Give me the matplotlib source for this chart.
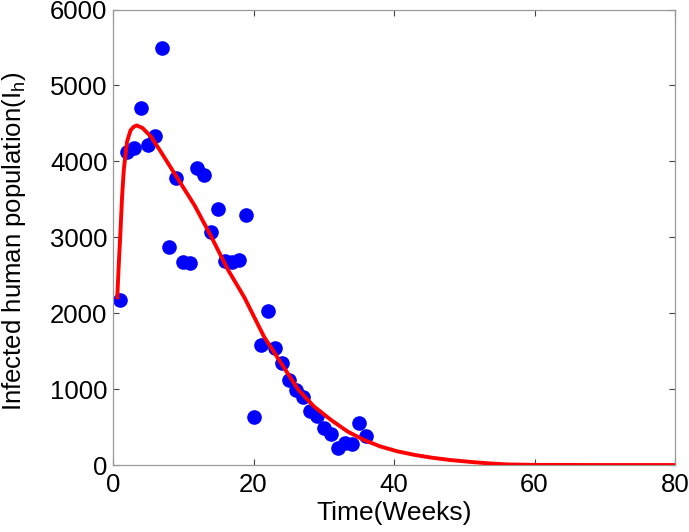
import matplotlib
matplotlib.use("Agg")
import matplotlib.pyplot as plt

# Observed data (weeks, infected humans)
weeks = list(range(1, 37))
infected = [2170, 4120, 4180, 4700, 4220, 4340, 5490, 2870, 3780, 2670,
            2660, 3910, 3820, 3070, 3370, 2690, 2680, 2700, 3300, 630,
            1580, 2030, 1545, 1350, 1126, 993, 897, 706, 649, 494,
            411, 221, 295, 274, 560, 388]

# Model fit curve
fit_t = [0.6, 0.8, 1.05, 1.3, 1.55, 2.0, 2.5, 3.0, 3.4, 4.2, 5.4, 6.8, 9.2,
         11.6, 13.9, 16.3, 18.7, 21.5, 23.9, 26.3, 28.6, 31.0, 33.4, 35.7,
         38.1, 40.5, 43.0, 45.5, 48.0, 51.0, 53.5, 56.0, 60.0, 70.0, 80.0]
fit_y = [2185, 2600, 3050, 3550, 3900, 4260, 4410, 4460, 4473, 4440, 4327,
         4128, 3775, 3422, 3024, 2583, 2208, 1690, 1347, 1000, 772, 596,
         441, 331, 243, 180, 132, 95, 66, 40, 22, 8, 2, 0, 0]

xticks = [0, 20, 40, 60, 80]
yticks = [0, 1000, 2000, 3000, 4000, 5000, 6000]

plt.rcParams['font.family'] = ['Liberation Sans', 'DejaVu Sans']
plt.rcParams['mathtext.fontset'] = 'custom'
plt.rcParams['mathtext.rm'] = 'Liberation Sans'
plt.rcParams['mathtext.it'] = 'Liberation Sans'

fig = plt.figure(figsize=(6.89, 5.32), dpi=100)
ax = fig.add_axes([0.164, 0.1259, 0.8157, 0.8561])

ax.plot(weeks, infected, 'o', color='#0000ff', markersize=9.5, zorder=2)
ax.plot(fit_t, fit_y, '-', color='#ff0000', linewidth=2.8, zorder=3,
        solid_capstyle='butt')

ax.set_xlim(0, 80)
ax.set_ylim(0, 6000)
ax.set_xticks(xticks)
ax.set_yticks(yticks)
ax.tick_params(direction='in', top=True, right=True, length=4, width=0.8,
               color='#444444', labelsize=18.5)
ax.tick_params(axis='x', pad=6)
ax.tick_params(axis='y', pad=4)
for s in ax.spines.values():
    s.set_color('#999999')
    s.set_linewidth(0.9)

ax.set_xlabel('Time(Weeks)', fontsize=19)
ax.xaxis.set_label_coords(0.5, -0.08)
ax.set_ylabel(r'Infected human population(I$_\mathregular{h}$)', fontsize=18.5)
ax.yaxis.set_label_coords(-0.152, 0.49)

fig.savefig('out.png', dpi=100)
